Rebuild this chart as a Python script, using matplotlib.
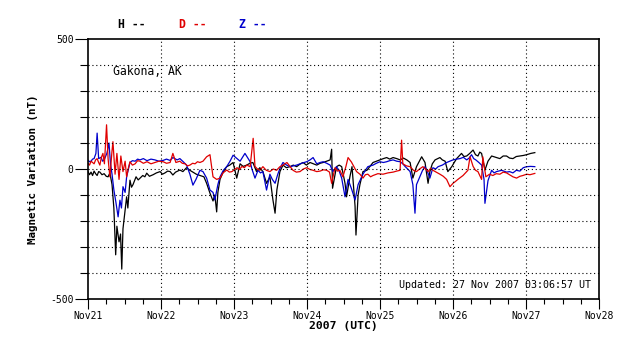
import matplotlib
matplotlib.use('Agg')
import matplotlib.pyplot as plt
import numpy as np
from matplotlib.ticker import MultipleLocator, FixedLocator

# hours since 2007-11-21 00:00 UTC, values in nT
h_time = [0, 0.5, 1, 1.5, 2, 2.5, 3, 3.5, 3.9, 4.6, 5.3, 6.0, 6.6, 7.2, 7.9, 8.5, 9.1, 9.5,
          10.2, 10.7, 11.1, 11.5, 12.2, 12.7, 13.1, 13.8, 14.3, 14.8, 15.3, 15.8, 16.5,
          17.1, 18.0, 18.7, 19.3, 20.2, 21.4, 22.5, 23.7, 24.5, 25.3, 26.2, 27.0, 27.9,
          28.8, 30.2, 31.2, 32.4, 33.5, 34.5, 35.6, 36.8, 38.1, 39.0, 40.1, 41.1, 41.7,
          42.3, 42.7, 43.4, 44.5, 45.6, 46.6, 47.7, 48.9, 50.0, 51.0, 52.2, 53.2, 54.2,
          55.4, 56.5, 57.5, 58.7, 59.8, 60.8, 61.5, 62.1, 63.1, 64.1, 65.2, 66.4, 67.5,
          68.6, 69.6, 70.7, 71.8, 73.0, 74.1, 75.2, 76.3, 77.3, 78.5, 79.6, 80.1, 80.4,
          81.7, 82.6, 83.4, 84.5, 85.0, 86.1, 86.8, 87.8, 88.1, 88.8, 89.4, 90.4, 91.7,
          92.7, 93.7, 94.8, 96.0, 97.1, 98.2, 99.2, 100.3, 101.5, 102.6, 103.7, 104.8,
          105.9, 106.8, 108.0, 109.7, 110.8, 111.8, 112.4, 113.2, 114.1, 115.7, 116.5,
          117.4, 118.3, 119.6, 120.4, 121.2, 122.0, 122.8, 123.6, 124.5, 125.5, 126.6,
          127.4, 128.2, 128.8, 129.4, 130.5, 131.5, 132.7, 134.0, 135.4, 136.5, 137.6,
          138.6, 139.7, 140.8, 142.0, 143.1, 144.2, 145.6, 146.9]
h_vals = [-10, -22, -12, -25, -8, -18, -25, -10, -12, -22, -18, -28, -30, -15, -60, -150, -330, -220,
          -280, -250, -385, -230, -160, -107, -150, -43, -70, -60, -45, -30, -42,
          -35, -25, -30, -16, -28, -22, -15, -10, -20, -15, -8, -10, -23,
          -12, -4, -10, 5, -5, -12, -20, -25, -30, -55, -93, -123, -100,
          -165, -90, -40, -10, 9, 15, 25, -35, 20, 10, 15, 22, 25,
          -10, 5, -10, -55, -30, -119, -170, -80, -10, 15, 5, 9, 15,
          9, 18, 25, 15, 25, 20, 15, 22, 25, 30, 35, 76, -74,
          9, 15, 9, -55, -107, -30, 9, -143, -254, -100, -60, -10, -5,
          10, 25, 30, 35, 40, 44, 38, 44, 40, 35, 42, 35,
          25, -35, 9, 47, 25, -55, -10, 20, 35, 44, 35,
          30, -10, 9, 25, 40, 50, 60, 48, 50, 60, 73,
          55, 50, 65, 60, -4, 30, 50, 45, 40, 50, 50,
          42, 40, 48, 50, 52, 55, 60, 63]

d_time = [0, 0.5, 1.0, 1.5, 2.0, 2.5, 3.0, 3.5, 3.9, 4.4, 4.9, 5.4, 6.1, 6.6, 7.2, 7.9,
          8.2, 8.9, 9.5, 10.2, 10.8, 11.5, 12.2, 12.7, 13.2, 13.8, 14.6, 15.5, 16.3, 17.1,
          18.2, 19.4, 20.7, 22.0, 23.3, 24.7, 25.8, 27.0, 27.9, 28.9, 30.2, 31.0, 31.9,
          32.7, 33.5, 34.4, 35.2, 36.0, 36.8, 37.8, 39.0, 40.1, 41.1, 42.3, 43.4, 44.4,
          45.6, 46.5, 47.3, 48.2, 49.0, 49.8, 50.6, 51.4, 52.2, 53.3, 54.3, 54.9, 55.7,
          56.5, 57.5, 58.6, 59.8, 60.9, 62.0, 63.0, 64.1, 65.4, 66.4, 67.4, 68.5, 69.7,
          70.8, 71.9, 73.0, 74.0, 75.2, 76.3, 77.4, 78.5, 79.4, 80.1, 81.2, 82.0, 82.8,
          83.8, 84.8, 85.5, 86.6, 87.4, 88.3, 89.4, 90.4, 91.2, 92.0, 92.9, 93.7, 95.3,
          97.0, 98.6, 100.3, 101.5, 102.6, 103.1, 103.5, 104.7, 105.9, 107.0, 108.0,
          109.0, 110.1, 111.0, 111.8, 112.6, 113.4, 114.5, 115.7, 116.8, 117.9, 119.0,
          120.0, 120.8, 121.6, 122.5, 123.3, 124.1, 124.9, 125.6, 126.6, 127.4, 128.2,
          129.4, 129.8, 130.8, 132.0, 133.1, 134.2, 135.4, 136.5, 137.6, 138.6, 139.7,
          140.9, 142.0, 143.0, 144.2, 145.3, 146.9]
d_vals = [22, 15, 30, 25, 20, 35, 40, 25, 15, 45, 60, 20, 170, 40, -30, 70,
          105, -20, 60, -40, 50, -10, 30, -30, 0, 28, 15, 20, 32, 30,
          22, 28, 20, 25, 30, 28, 22, 25, 60, 25, 30, 22, 20,
          12, 15, 22, 20, 28, 25, 30, 47, 55, -30, -40, -35, -15,
          -4, -12, -10, -2, 5, -2, 10, 5, 15, 9, 118, 10, 0,
          -5, 9, -5, -10, 0, -5, 8, 15, 25, 10, -5, -12, -10,
          0, 5, -2, -5, -10, -8, -3, -5, -12, -55, 5, -8, -5,
          -30, 10, 44, 27, 10, -10, -20, -35, -22, -20, -30, -25, -18,
          -20, -15, -12, -8, -5, 111, 20, 12, 9, -5, -10,
          0, 9, 0, -10, 2, -5, -12, -20, -28, -40, -68,
          -55, -48, -40, -32, -25, -15, -5, 47, 10, -5, -10,
          -40, 47, -30, -20, -25, -18, -20, -12, -15, -22, -30,
          -35, -28, -25, -20, -22, -17]

z_time = [0, 0.5, 1, 1.5, 2, 2.6, 3.0, 3.5, 4.3, 4.8, 5.3, 6.2, 6.9, 7.4, 7.9, 8.5, 9.2,
          9.9, 10.5, 11.0, 11.5, 12.2, 12.7, 13.8, 14.6, 15.5, 16.3, 17.1, 18.2, 19.4,
          20.7, 22.0, 23.3, 24.7, 25.8, 27.0, 27.9, 29.3, 30.2, 31.3, 32.4, 33.5, 34.5,
          35.5, 36.8, 37.8, 39.0, 40.1, 41.1, 41.7, 42.7, 43.4, 44.5, 45.6, 46.7, 47.7,
          49.0, 50.0, 51.6, 53.3, 53.9, 54.9, 55.9, 56.7, 57.5, 58.7, 59.8, 60.6, 61.5,
          62.4, 63.2, 64.1, 65.3, 66.4, 67.5, 68.6, 70.2, 71.9, 73.0, 74.0, 75.2, 76.3,
          77.3, 78.5, 79.6, 80.5, 81.7, 82.5, 83.4, 84.5, 85.5, 86.6, 87.8, 88.8, 89.6,
          90.4, 91.2, 92.0, 93.7, 94.8, 96.0, 97.1, 98.2, 99.2, 100.3, 101.5, 102.6,
          103.5, 104.3, 105.1, 105.9, 106.8, 107.5, 108.0, 109.1, 110.0, 110.8, 111.6,
          112.4, 113.4, 114.3, 115.1, 116.5, 117.9, 119.0, 120.0, 121.2, 122.3, 123.4,
          124.5, 125.3, 126.1, 126.8, 127.5, 128.5, 129.4, 130.2, 130.5, 131.5, 132.7,
          133.5, 134.3, 136.0, 137.6, 138.6, 139.7, 140.8, 142.0, 143.1, 144.2, 145.5,
          146.9]
z_vals = [34, 28, 30, 38, 40, 60, 138, 40, 45, 30, 35, 60, 100, 20, -20, -80, -130,
          -184, -120, -150, -68, -90, -30, 25, 32, 30, 38, 35, 40, 32,
          38, 35, 30, 33, 38, 33, 44, 35, 40, 28, 15, -20, -62,
          -40, -5, -10, -35, -81, -90, -119, -60, -30, -5, 9, 30, 53,
          40, 30, 60, 28, 0, -35, -5, -15, -10, -81, -20, -40, -55,
          -20, 5, 25, 15, 9, 12, 15, 22, 28, 35, 44, 20, 25,
          28, 22, 15, -10, 9, -5, -35, -107, -40, -75, -119, -60, -40,
          -20, -5, 9, 15, 22, 28, 25, 28, 32, 35, 30, 28,
          20, 9, 0, -10, -60, -170, -60, -30, -5, 9, -10,
          -35, 5, 0, 9, 15, 25, 30, 35, 38, 40, 45,
          35, 42, 55, 40, 35, 25, 15, -40, -132, -45, -5,
          -15, -10, -5, -12, -10, -15, -5, -8, 5, 9, 10,
          9]

day_labels = ['Nov21', 'Nov22', 'Nov23', 'Nov24', 'Nov25', 'Nov26', 'Nov27', 'Nov28']

mono = 'DejaVu Sans Mono'

fig = plt.figure(figsize=(6.38, 3.59), dpi=100)
ax = fig.add_axes([88/638, 60/359, 511/638, 260/359])

ax.plot(h_time, h_vals, color='black', lw=0.9)
ax.plot(z_time, z_vals, color='#0000cc', lw=0.9)
ax.plot(d_time, d_vals, color='#e00000', lw=0.9)

ax.set_xlim(0, 168)
ax.set_ylim(-500, 500)

ax.set_xticks(np.arange(0, 169, 24))
ax.set_xticklabels(day_labels, family=mono, fontsize=7)
ax.xaxis.set_minor_locator(MultipleLocator(6))

ax.yaxis.set_major_locator(FixedLocator([-500, 0, 500]))
ax.yaxis.set_minor_locator(MultipleLocator(100))
ax.set_yticklabels(['-500', '0', '500'], family=mono, fontsize=7)

ax.tick_params(axis='x', which='major', direction='out', length=7.2, width=0.8, pad=1.5)
ax.tick_params(axis='x', which='minor', direction='out', length=3.6, width=0.8)
ax.tick_params(axis='y', which='major', direction='out', length=9.3, width=0.8, pad=1)
ax.tick_params(axis='y', which='minor', direction='out', length=6, width=0.8)

for v in range(24, 168, 24):
    ax.axvline(v, color='black', lw=0.8, ls=(0, (1, 2.5)))
for v in range(-400, 500, 100):
    ax.axhline(v, color='black', lw=0.8, ls=(0, (1, 2.5)))

for s in ax.spines.values():
    s.set_linewidth(1.2)

ax.set_xlabel('2007 (UTC)', family=mono, fontsize=8.2, fontweight='bold', labelpad=0)
ax.set_ylabel('Magnetic Variation (nT)', family=mono, fontsize=7.8, fontweight='bold', labelpad=9)

ax.text(0.048, 0.875, 'Gakona, AK', transform=ax.transAxes, family=mono, fontsize=8.3,
        va='center', ha='left')
ax.text(0.985, 0.055, 'Updated: 27 Nov 2007 03:06:57 UT', transform=ax.transAxes,
        family=mono, fontsize=7.2, va='center', ha='right')

fig.text(118/638, 1 - 25/359, 'H --', color='black', family=mono, fontsize=8.3,
         fontweight='bold', va='center', ha='left')
fig.text(179/638, 1 - 25/359, 'D --', color='#e00000', family=mono, fontsize=8.3,
         fontweight='bold', va='center', ha='left')
fig.text(239/638, 1 - 25/359, 'Z --', color='#0000cc', family=mono, fontsize=8.3,
         fontweight='bold', va='center', ha='left')

fig.savefig('out.png', dpi=100)
